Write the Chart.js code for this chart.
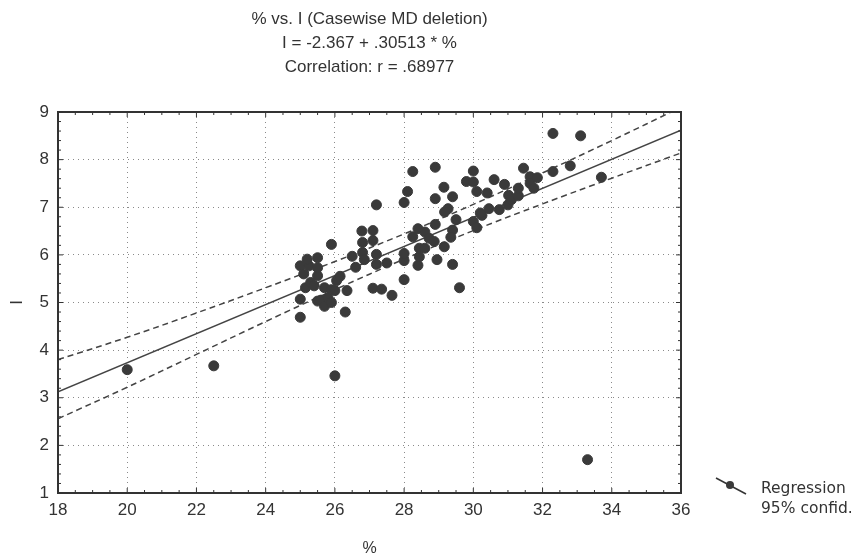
<!DOCTYPE html>
<html>
<head>
<meta charset="utf-8">
<script src="https://cdn.jsdelivr.net/npm/chart.js@4.4.1/dist/chart.umd.min.js"></script>
<style>
  html, body { margin: 0; padding: 0; background: #fff; }
  #wrap { position: relative; width: 855px; height: 553px; }
</style>
</head>
<body>
<div id="wrap"><canvas id="chart"></canvas></div>
<script>
// data
const pctX = [
  20.0, 22.5, 26.0, 33.3,
  25.0, 25.0, 25.0, 25.1, 25.15, 25.3, 25.4, 25.5, 25.25, 25.2, 25.5, 25.5, 25.5, 25.6,
  25.7, 25.7, 25.8, 25.9, 25.9, 26.0, 26.05, 26.15, 26.35, 26.3, 25.9,
  26.5, 26.6, 26.78, 26.8, 26.8, 26.85, 27.1, 27.1, 27.2, 27.2, 27.2, 27.1, 27.35, 27.65, 27.5,
  28.0, 28.0, 28.0, 28.0, 28.1, 28.25, 28.4, 28.44, 28.44, 28.4, 28.25, 28.6, 28.72, 28.6,
  28.87, 28.9, 28.9, 28.9, 28.95, 29.15, 29.4, 29.27, 29.17, 29.5, 29.4, 29.35, 29.16, 29.4, 29.6,
  29.8, 30.0, 30.0, 30.0, 30.1, 30.25, 30.45, 30.75, 30.2, 30.1, 30.4, 30.6, 30.9, 31.0, 31.02, 31.1, 31.3,
  31.3, 31.45, 31.64, 31.64, 31.75, 31.85, 32.3, 32.8, 32.3, 33.1, 33.7
];
const iY = [
  3.59, 3.67, 3.46, 1.7,
  4.69, 5.07, 5.77, 5.6, 5.31, 5.42, 5.35, 5.56, 5.77, 5.91, 5.94, 5.73, 5.03, 5.05,
  4.92, 5.31, 5.1, 5.27, 6.22, 5.25, 5.46, 5.55, 5.25, 4.8, 5.0,
  5.97, 5.74, 6.5, 6.26, 6.05, 5.9, 6.51, 6.3, 6.01, 5.8, 7.05, 5.3, 5.28, 5.15, 5.83,
  5.48, 5.88, 6.03, 7.1, 7.33, 7.75, 5.78, 5.96, 6.14, 6.55, 6.38, 6.48, 6.35, 6.14,
  6.28, 7.84, 7.18, 6.64, 5.9, 7.42, 7.22, 6.97, 6.9, 6.74, 6.52, 6.37, 6.17, 5.8, 5.31,
  7.54, 7.53, 7.76, 6.7, 6.57, 6.83, 6.97, 6.95, 6.88, 7.33, 7.3, 7.58, 7.48, 7.05, 7.25, 7.16, 7.24,
  7.4, 7.82, 7.64, 7.5, 7.4, 7.62, 7.75, 7.87, 8.55, 8.5, 7.63
];
const regX = [18, 36];
const regY = [3.125, 8.618];
const bandX = [18, 20, 22, 24, 26, 28, 30, 32, 34, 36];
const upperY = [3.80, 4.27, 4.78, 5.31, 5.86, 6.44, 7.06, 7.72, 8.40, 9.10];
const lowerY = [2.56, 3.22, 3.91, 4.60, 5.27, 5.91, 6.51, 7.07, 7.61, 8.14];
const titleLines = ["% vs. I (Casewise MD deletion)", "I = -2.367 + .30513 * %", "Correlation: r = .68977"];
const legendLabels = ["Regression", "95% confid."];

const pts = pctX.map((x, i) => ({ x: x, y: iY[i] }));
const toXY = (xs, ys) => xs.map((x, i) => ({ x: x, y: ys[i] }));

const ink = "#3a3a3a";
const sans = "'Liberation Sans', Arial, sans-serif";

const decor = {
  id: "decor",
  afterDraw(chart) {
    const ctx = chart.ctx;
    const a = chart.chartArea;
    const xs = chart.scales.x, ys = chart.scales.y;
    ctx.save();
    // frame
    ctx.strokeStyle = "#333";
    ctx.lineWidth = 2;
    ctx.strokeRect(a.left, a.top, a.right - a.left, a.bottom - a.top);
    // small inward ticks
    ctx.lineWidth = 1;
    for (let v = 18; v <= 36.001; v += 0.5) {
      const p = xs.getPixelForValue(v);
      const len = Math.abs(v - Math.round(v / 2) * 2) < 0.01 ? 5 : 3;
      ctx.beginPath();
      ctx.moveTo(p, a.bottom); ctx.lineTo(p, a.bottom - len);
      ctx.moveTo(p, a.top); ctx.lineTo(p, a.top + len);
      ctx.stroke();
    }
    for (let v = 1; v <= 9.001; v += 0.2) {
      const p = ys.getPixelForValue(v);
      const len = Math.abs(v - Math.round(v)) < 0.01 ? 5 : 3;
      ctx.beginPath();
      ctx.moveTo(a.left, p); ctx.lineTo(a.left + len, p);
      ctx.moveTo(a.right, p); ctx.lineTo(a.right - len, p);
      ctx.stroke();
    }
    // title
    ctx.fillStyle = "#333";
    ctx.textAlign = "center";
    ctx.textBaseline = "middle";
    ctx.font = "17px " + sans;
    const cx = (a.left + a.right) / 2;
    titleLines.forEach((t, i) => ctx.fillText(t, cx, 19 + i * 24));
    // legend
    ctx.strokeStyle = "#333";
    ctx.lineWidth = 1.5;
    ctx.beginPath();
    ctx.moveTo(716, 478); ctx.lineTo(746, 494);
    ctx.stroke();
    ctx.fillStyle = ink;
    ctx.beginPath();
    ctx.arc(730, 485, 4, 0, Math.PI * 2);
    ctx.fill();
    ctx.fillStyle = "#333";
    ctx.textAlign = "left";
    ctx.font = "15.5px 'DejaVu Sans', sans-serif";
    ctx.fillText(legendLabels[0], 761, 489);
    ctx.fillText(legendLabels[1], 761, 509);
    ctx.restore();
  }
};

new Chart(document.getElementById("chart"), {
  type: "scatter",
  data: {
    datasets: [
      {
        label: "I",
        data: pts,
        backgroundColor: ink,
        borderColor: ink,
        pointRadius: 5,
        pointHoverRadius: 5,
        order: 0,
      },
      {
        type: "line",
        label: "Regression",
        data: toXY(regX, regY),
        borderColor: "#444",
        borderWidth: 1.5,
        pointRadius: 0,
        fill: false,
        order: 1,
      },
      {
        type: "line",
        label: "95% confid. upper",
        data: toXY(bandX, upperY),
        borderColor: "#444",
        borderWidth: 1.5,
        borderDash: [6, 4],
        pointRadius: 0,
        tension: 0.4,
        fill: false,
        order: 1,
      },
      {
        type: "line",
        label: "95% confid. lower",
        data: toXY(bandX, lowerY),
        borderColor: "#444",
        borderWidth: 1.5,
        borderDash: [6, 4],
        pointRadius: 0,
        tension: 0.4,
        fill: false,
        order: 1,
      },
    ],
  },
  options: {
    responsive: true,
    maintainAspectRatio: false,
    animation: false,
    layout: {
      padding: { top: 112, right: 174, left: 0, bottom: 0 },
    },
    plugins: {
      legend: { display: false },
      title: { display: false },
      tooltip: { enabled: false },
    },
    scales: {
      x: {
        type: "linear",
        min: 18,
        max: 36,
        ticks: { stepSize: 2, color: "#333", font: { family: sans, size: 17 }, padding: 7 },
        grid: { color: "#8a8a8a", lineWidth: 1, drawTicks: false },
        border: { display: false, dash: [1, 4] },
        title: { display: true, text: "%", color: "#333", font: { family: sans, size: 16 }, padding: { top: 0, bottom: -5 } },
        afterFit(scale) { scale.height = 60; },
      },
      y: {
        type: "linear",
        min: 1,
        max: 9,
        ticks: { stepSize: 1, color: "#333", font: { family: sans, size: 17 }, padding: 9 },
        grid: { color: "#8a8a8a", lineWidth: 1, drawTicks: false },
        border: { display: false, dash: [1, 4] },
        title: { display: true, text: "I", color: "#333", font: { family: sans, size: 17 }, padding: { top: 7, bottom: 0 } },
        afterFit(scale) { scale.width = 58; },
      },
    },
  },
  plugins: [decor],
});
</script>
</body>
</html>
